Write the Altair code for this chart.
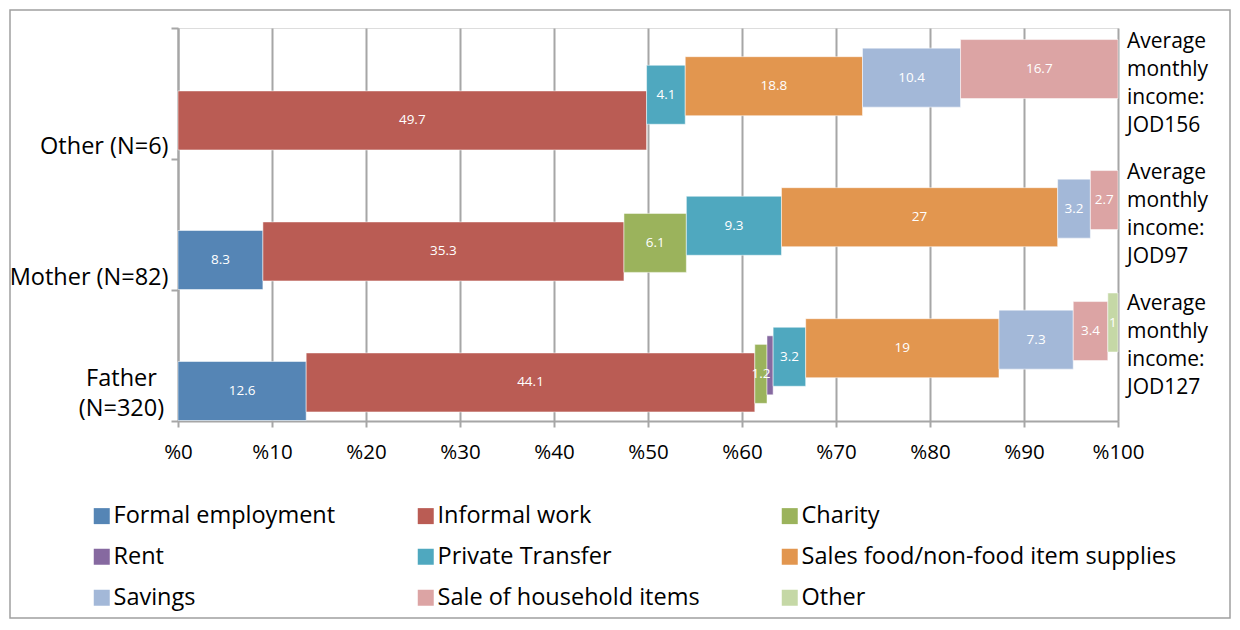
import altair as alt
import pandas as pd

categories = ["Other (N=6)", "Mother (N=82)", "Father (N=320)"]
series = ["Formal employment", "Informal work", "Charity", "Rent", "Private Transfer",
          "Sales food/non-food item supplies", "Savings", "Sale of household items", "Other"]
colors = ["#5585B5", "#BA5C54", "#9BB35C", "#8669A0", "#4FA8BF",
          "#E2964F", "#A3B8D8", "#DCA4A4", "#C5D8A6"]
values_other = [0, 49.7, 0, 0, 4.1, 18.8, 10.4, 16.7, 0]
values_mother = [8.3, 35.3, 6.1, 0, 9.3, 27, 3.2, 2.7, 0]
values_father = [12.6, 44.1, 1.2, 0.6, 3.2, 19, 7.3, 3.4, 1]
incomes = [156, 97, 127]
x_ticks = [0, 0.1, 0.2, 0.3, 0.4, 0.5, 0.6, 0.7, 0.8, 0.9, 1.0]

FONT = "Open Sans"
GRID = "#a6a6a6"

rows = []
for cat, vals in zip(categories, [values_other, values_mother, values_father]):
    for i, (s, v) in enumerate(zip(series, vals)):
        rows.append({"category": cat, "series": s, "order": i, "value": v,
                     "label": f"{v:g}"})
df = pd.DataFrame(rows)

ann = pd.DataFrame({"category": categories,
                    "txt": [f"Average\nmonthly\nincome:\nJOD{v}" for v in incomes]})

y_scale = alt.Scale(domain=categories, paddingInner=0, paddingOuter=0)
off_scale = alt.Scale(domain=[0, 8], range=[101, 32.5])
x_scale = alt.Scale(domain=[0, 1], nice=False)

father_test = "datum.value == 'Father (N=320)'"

x_axis = alt.Axis(values=x_ticks, labelExpr="'%' + round(datum.value * 100)",
                  grid=True, gridColor=GRID, gridWidth=2,
                  domainColor=GRID, domainWidth=2,
                  tickColor=GRID, tickWidth=2, tickSize=6, labelFlush=False,
                  labelFontSize=20.5, labelColor="black", labelPadding=15,
                  labelFont=FONT, title=None)
y_axis = alt.Axis(tickBand="extent", ticks=True, tickSize=7, tickColor=GRID, tickWidth=2,
                  domainColor=GRID, domainWidth=2, grid=False,
                  labelFont=FONT, labelFontSize=23.5, labelColor="black",
                  labelBaseline="bottom", labelLineHeight=30,
                  labelOffset=alt.condition(father_test, alt.value(35), alt.value(65)),
                  labelAlign=alt.condition(father_test, alt.value("center"), alt.value("right")),
                  labelPadding=alt.condition(father_test, alt.value(50), alt.value(3)),
                  labelExpr="datum.value == 'Father (N=320)' ? ['Father', '(N=320)'] : datum.label",
                  title=None)

base = (alt.Chart(df)
        .transform_filter("datum.value > 0")
        .transform_stack(stack="value", groupby=["category"], as_=["x0", "x1"],
                         offset="normalize", sort=[alt.SortField("order", order="ascending")])
        .transform_calculate(xm="(datum.x0 + datum.x1) / 2"))

bars = base.mark_bar(height=59, stroke="white", strokeWidth=1, strokeOpacity=0.5).encode(
    x=alt.X("x0:Q", scale=x_scale, axis=x_axis),
    x2="x1:Q",
    y=alt.Y("category:N", scale=y_scale, sort=categories, axis=y_axis),
    yOffset=alt.YOffset("order:Q", scale=off_scale),
    color=alt.Color("series:N", scale=alt.Scale(domain=series, range=colors),
                    legend=alt.Legend(orient="none", legendX=-88, legendY=476,
                                      direction="horizontal", columns=3,
                                      columnPadding=78, rowPadding=16,
                                      symbolType="square", symbolSize=256,
                                      symbolStrokeWidth=0, symbolOpacity=1,
                                      labelFont=FONT, labelFontSize=23.5,
                                      labelColor="black", labelOffset=0,
                                      labelLimit=600, title=None)),
)

labels = base.transform_filter("datum.value >= 1").mark_text(
    color="white", fontSize=13.5, font=FONT).encode(
    x=alt.X("xm:Q", scale=x_scale, axis=x_axis),
    y=alt.Y("category:N", scale=y_scale, sort=categories, axis=y_axis),
    yOffset=alt.YOffset("order:Q", scale=off_scale),
    text="label:N",
)

annot = alt.Chart(ann).transform_calculate(one="1").mark_text(
    align="left", baseline="top", lineBreak="\n",
    dx=9, dy=3, fontSize=21, lineHeight=28,
    font=FONT, color="black").encode(
    x=alt.X("one:Q", scale=x_scale, axis=x_axis),
    y=alt.Y("category:N", scale=y_scale, sort=categories, axis=y_axis, bandPosition=0),
    text="txt:N",
)

border = alt.Chart(pd.DataFrame({"a": [0]})).mark_rect(
    fill=None, stroke="#a0a0a0", strokeWidth=1.5).encode(
    x=alt.value(-168), x2=alt.value(1052), y=alt.value(-18), y2=alt.value(590))

chart = alt.layer(border, bars, labels, annot).properties(
    width=940, height=393,
    padding={"left": 170, "top": 20, "right": 114, "bottom": 199},
    autosize=alt.AutoSizeParams(type="none"),
).configure_view(stroke=None).configure(font=FONT)

chart.save("out.html", embed_options={"renderer": "svg", "actions": False})
